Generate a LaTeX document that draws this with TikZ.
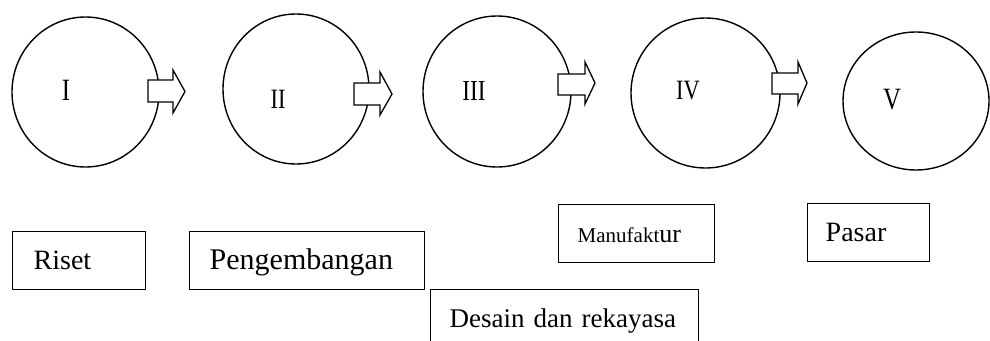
\documentclass[tikz,border=0pt]{standalone}
\usepackage{fontspec}
\setmainfont{Liberation Serif}
\newfontfamily\romfont[FakeStretch=0.8]{Liberation Serif}
\usetikzlibrary{shapes.geometric}

\begin{document}
\begin{tikzpicture}[x=1pt, y=-1pt, line width=1.4pt,
    stage/.style={draw, ellipse, minimum width=147pt, minimum height=150pt, inner sep=0pt},
    numeral/.style={inner sep=0pt},
    box/.style={draw, anchor=north west, minimum height=58pt, align=left,
        text height=20pt, text depth=2pt, font=\fontsize{28}{30}\selectfont},
    blockarrow/.style={draw, fill=white, line width=1.3pt}]
    \clip (0,0) rectangle (990,340);
    % stages
    \node[stage] (stageI) at (85.5,92) {};
    \node[stage, minimum width=146pt] (stageII) at (296,89) {};
    \node[stage, minimum width=148pt, minimum height=151pt] (stageIII) at (497,91.5) {};
    \node[stage, minimum width=149pt] (stageIV) at (705.5,93) {};
    \node[stage, minimum width=146pt, minimum height=138pt] (stageV) at (916,101) {};
    % block arrows
    \draw[blockarrow] (148,80) -- (173,80) -- (173,70) -- (185,91.5) -- (173,113) -- (173,102) -- (148,102) -- cycle;
    \draw[blockarrow] (354,83) -- (380,83) -- (380,72) -- (392,94) -- (380,115) -- (380,105) -- (354,105) -- cycle;
    \draw[blockarrow] (558,74) -- (585,74) -- (585,62) -- (595,83) -- (585,104) -- (585,95) -- (558,95) -- cycle;
    \draw[blockarrow] (772,73) -- (798,73) -- (798,62) -- (807,83) -- (798,104) -- (798,94) -- (772,94) -- cycle;
    % numerals
    \node[numeral, font=\romfont\fontsize{31}{33}\selectfont] (numI) at (66,90) {I};
    \node[numeral, font=\romfont\fontsize{28}{30}\selectfont] (numII) at (278,99) {II};
    \node[numeral, font=\romfont\fontsize{29}{31}\selectfont] (numIII) at (474,91) {III};
    \node[numeral, font=\romfont\fontsize{28}{30}\selectfont] (numIV) at (688,91) {IV};
    \node[numeral, font=\romfont\fontsize{31}{33}\selectfont] (numV) at (892,100) {V};
    % labels
    \node[box, inner xsep=21pt, text width=91pt] (riset) at (12,231) {Riset};
    \node[box, inner xsep=20pt, text width=195pt, font=\fontsize{30}{32}\selectfont] (pengembangan) at (189,231) {Pengembangan};
    \node[box, inner xsep=19pt, text width=230pt, font=\fontsize{27}{29}\selectfont] (desain) at (430,289) {Desain dan rekayasa};
    \node[box, inner xsep=19pt, text width=118pt] (manufaktur) at (558,204)
        {{\fontsize{21}{23}\selectfont Manufakt}{\fontsize{26}{28}\selectfont ur}};
    \node[box, inner xsep=18pt, text width=86pt] (pasar) at (807,203) {Pasar};
\end{tikzpicture}
\end{document}
